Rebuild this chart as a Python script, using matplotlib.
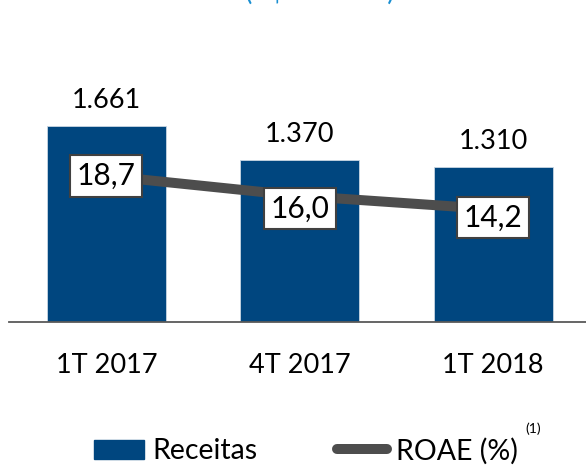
import matplotlib
matplotlib.use('Agg')
import matplotlib.pyplot as plt
from matplotlib.patches import Patch
from matplotlib.lines import Line2D

# data
periods = ['1T 2017', '4T 2017', '1T 2018']
receitas = [1661, 1370, 1310]
roae = [18.7, 16.0, 14.2]
roae_labels = ['18,7', '16,0', '14,2']
receitas_labels = ['1.661', '1.370', '1.310']
label_offsets = [0, -9, -6]   # points, box label shift from line point

bar_color = '#00467F'
line_color = '#4D4D4D'
font = 'Lato'

plt.rcParams['font.family'] = [font, 'DejaVu Sans']

W, H = 586, 467
fig = plt.figure(figsize=(W / 100, H / 100), dpi=100)
ax = fig.add_axes([9 / W, 1 - 322 / H, 1 - 9 / W, 262 / H])

x = list(range(len(periods)))
ax.bar(x, receitas, width=0.615, color=bar_color, edgecolor='#C8D6E3', linewidth=0.6, zorder=2)
ax.set_xlim(-0.504, 2.48)
ax.set_ylim(0, 2220)
for xi, v, lab in zip(x, receitas, receitas_labels):
    ax.annotate(lab, (xi, v), xytext=(0, 13), textcoords='offset points',
                ha='center', va='baseline', fontsize=19.5, color='black')

for s in ['top', 'right', 'left']:
    ax.spines[s].set_visible(False)
ax.spines['bottom'].set_color('#595959')
ax.spines['bottom'].set_linewidth(1.3)
ax.set_yticks([])
ax.set_xticks(x)
ax.set_xticklabels(periods, fontsize=19.5)
ax.tick_params(axis='x', length=0, pad=22)

ax2 = ax.twinx()
ax2.set_ylim(-1.08, 34.4)
ax2.axis('off')
ax2.plot(x, roae, color=line_color, lw=7.2, solid_capstyle='butt', zorder=3)
for xi, v, lab, off in zip(x, roae, roae_labels, label_offsets):
    ax2.annotate(lab, (xi, v), xytext=(0, off), textcoords='offset points',
                 ha='center', va='center', fontsize=21.5, color='black', zorder=4,
                 bbox=dict(boxstyle='square,pad=0.22', fc='white', ec='#404040', lw=1.5))

# title, cut off by the top edge as in the reference
fig.text(320 / W, 1 + 0.5 / H, '(R$ milhões)', ha='center', va='baseline',
         fontsize=20, color='#1A8FD1')

handles = [Patch(facecolor=bar_color, edgecolor=bar_color),
           Line2D([0], [0], color=line_color, lw=7.2, solid_capstyle='round')]
fig.legend(handles, ['Receitas', 'ROAE (%)'], loc='center', bbox_to_anchor=(306 / W, 1 - 451 / H),
           ncol=2, frameon=False, fontsize=20.5, handlelength=1.75, handleheight=0.7,
           handletextpad=0.3, columnspacing=2.8, borderaxespad=0)
fig.text(533 / W, 1 - 429 / H, '(1)', ha='center', va='center', fontsize=10)

fig.savefig('out.png', dpi=100)
